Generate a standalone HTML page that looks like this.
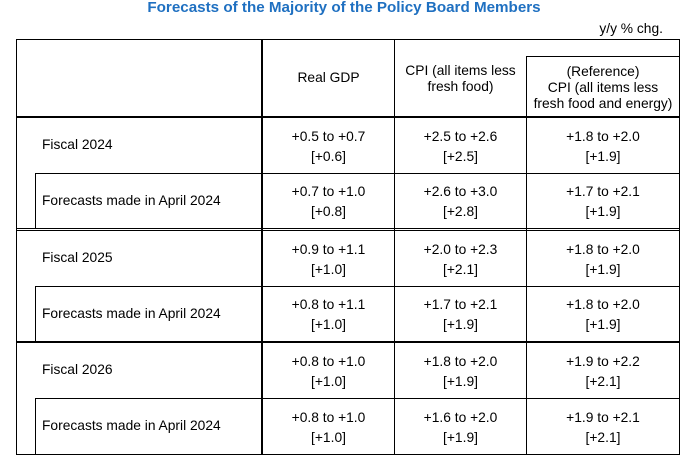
<!DOCTYPE html>
<html>
<head>
<meta charset="utf-8">
<style>
  html, body { margin:0; padding:0; background:#fff; }
  body { width:687px; height:456px; position:relative; overflow:hidden;
         font-family:"Liberation Sans", Arial, sans-serif; color:#000; }
  .ln { position:absolute; background:#000; }
  .t { position:absolute; white-space:nowrap; font-size:13.8px; }
  .c { text-align:center; }
  .d { line-height:20px; }
  .h { line-height:16.2px; }
</style>
</head>
<body>
<!-- Title -->
<div class="t c" style="left:94px; width:500px; top:-1px; line-height:18px; font-size:15.2px; font-weight:bold; color:#1f70c1;">Forecasts of the Majority of the Policy Board Members</div>
<div class="t" style="right:24px; top:21px; line-height:16px;">y/y % chg.</div>

<!-- Outer borders -->
<div class="ln" style="left:16px; top:39px; width:664px; height:1px;"></div>
<div class="ln" style="left:16px; top:39px; width:1px; height:416px;"></div>
<div class="ln" style="left:679px; top:39px; width:1px; height:416px;"></div>
<div class="ln" style="left:16px; top:454px; width:664px; height:1px;"></div>

<!-- Column lines -->
<div class="ln" style="left:261px; top:39px; width:2px; height:416px;"></div>
<div class="ln" style="left:394px; top:39px; width:1px; height:416px;"></div>
<div class="ln" style="left:526px; top:56px; width:1px; height:399px;"></div>
<div class="ln" style="left:526px; top:56px; width:154px; height:1px;"></div>

<!-- Header bottom thick -->
<div class="ln" style="left:16px; top:116px; width:664px; height:2px;"></div>

<!-- Fiscal 2024 sub row -->
<div class="ln" style="left:35px; top:173px; width:645px; height:1px;"></div>
<div class="ln" style="left:35px; top:173px; width:1px; height:56px;"></div>
<!-- double line -->
<div class="ln" style="left:16px; top:228px; width:664px; height:1px;"></div>
<div class="ln" style="left:16px; top:230px; width:664px; height:1px;"></div>

<!-- Fiscal 2025 sub row -->
<div class="ln" style="left:35px; top:286px; width:645px; height:1px;"></div>
<div class="ln" style="left:35px; top:286px; width:1px; height:56px;"></div>
<!-- thick -->
<div class="ln" style="left:16px; top:341px; width:664px; height:2px;"></div>

<!-- Fiscal 2026 sub row -->
<div class="ln" style="left:35px; top:398px; width:645px; height:1px;"></div>
<div class="ln" style="left:35px; top:398px; width:1px; height:57px;"></div>

<!-- Header text -->
<div class="t c h" style="left:263px; width:131px; top:70px; line-height:16px;">Real GDP</div>
<div class="t c h" style="left:395px; width:131px; top:62.5px; line-height:16px;">CPI (all items less<br>fresh food)</div>
<div class="t c h" style="left:527px; width:152px; top:63.5px;">(Reference)<br>CPI (all items less<br>fresh food and energy)</div>

<!-- Row labels -->
<div class="t d" style="left:42px; top:135px;">Fiscal 2024</div>
<div class="t d" style="left:42px; top:190.5px;">Forecasts made in April 2024</div>
<div class="t d" style="left:42px; top:248.3px;">Fiscal 2025</div>
<div class="t d" style="left:42px; top:304.3px;">Forecasts made in April 2024</div>
<div class="t d" style="left:42px; top:360px;">Fiscal 2026</div>
<div class="t d" style="left:42px; top:416px;">Forecasts made in April 2024</div>

<!-- Data: Row 1 -->
<div class="t c d" style="left:263px; width:131px; top:127px;">+0.5 to +0.7<br>[+0.6]</div>
<div class="t c d" style="left:395px; width:131px; top:127px;">+2.5 to +2.6<br>[+2.5]</div>
<div class="t c d" style="left:527px; width:152px; top:127px;">+1.8 to +2.0<br>[+1.9]</div>
<!-- Row 2 -->
<div class="t c d" style="left:263px; width:131px; top:182.2px;">+0.7 to +1.0<br>[+0.8]</div>
<div class="t c d" style="left:395px; width:131px; top:182.2px;">+2.6 to +3.0<br>[+2.8]</div>
<div class="t c d" style="left:527px; width:152px; top:182.2px;">+1.7 to +2.1<br>[+1.9]</div>
<!-- Row 3 -->
<div class="t c d" style="left:263px; width:131px; top:240px;">+0.9 to +1.1<br>[+1.0]</div>
<div class="t c d" style="left:395px; width:131px; top:240px;">+2.0 to +2.3<br>[+2.1]</div>
<div class="t c d" style="left:527px; width:152px; top:240px;">+1.8 to +2.0<br>[+1.9]</div>
<!-- Row 4 -->
<div class="t c d" style="left:263px; width:131px; top:295px;">+0.8 to +1.1<br>[+1.0]</div>
<div class="t c d" style="left:395px; width:131px; top:295px;">+1.7 to +2.1<br>[+1.9]</div>
<div class="t c d" style="left:527px; width:152px; top:295px;">+1.8 to +2.0<br>[+1.9]</div>
<!-- Row 5 -->
<div class="t c d" style="left:263px; width:131px; top:352px;">+0.8 to +1.0<br>[+1.0]</div>
<div class="t c d" style="left:395px; width:131px; top:352px;">+1.8 to +2.0<br>[+1.9]</div>
<div class="t c d" style="left:527px; width:152px; top:352px;">+1.9 to +2.2<br>[+2.1]</div>
<!-- Row 6 -->
<div class="t c d" style="left:263px; width:131px; top:408px;">+0.8 to +1.0<br>[+1.0]</div>
<div class="t c d" style="left:395px; width:131px; top:408px;">+1.6 to +2.0<br>[+1.9]</div>
<div class="t c d" style="left:527px; width:152px; top:408px;">+1.9 to +2.1<br>[+2.1]</div>
</body>
</html>
